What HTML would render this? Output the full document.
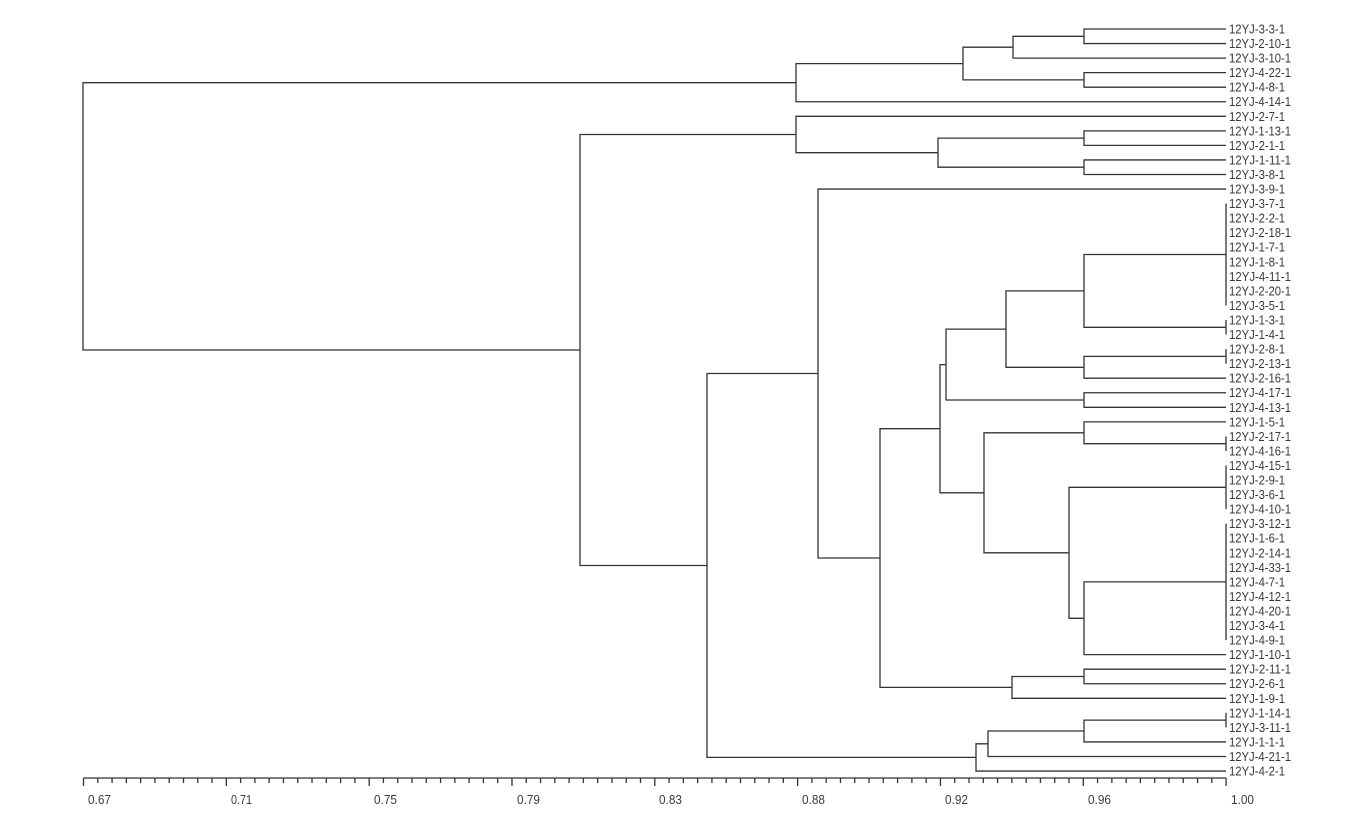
<!DOCTYPE html>
<html><head><meta charset="utf-8"><style>
html,body{margin:0;padding:0;background:#fff;}
svg{display:block;}
text{font-family:"Liberation Sans",sans-serif;fill:#3a3a3a;}
</style></head><body>
<svg width="1363" height="832" viewBox="0 0 1363 832" xmlns="http://www.w3.org/2000/svg">
<g fill="none" stroke="#333" stroke-width="1.3">
<path d="M1226 29H1084V43.55H1226"/>
<path d="M1084 36.3H1013V58.1H1226"/>
<path d="M1226 72.65H1084V87.2H1226"/>
<path d="M1013 47.2H963V79.9H1084"/>
<path d="M963 63.6H796V101.75H1226"/>
<path d="M1226 130.85H1084V145.4H1226"/>
<path d="M1226 159.95H1084V174.5H1226"/>
<path d="M1084 138.1H938V167.2H1084"/>
<path d="M1226 116.3H796V152.7H938"/>
<path d="M1226 203.6V305.45"/>
<path d="M1226 320V334.55"/>
<path d="M1226 254.5H1084V327.3H1226"/>
<path d="M1226 349.1V363.65"/>
<path d="M1226 356.4H1084V378.2H1226"/>
<path d="M1084 290.9H1006V367.3H1084"/>
<path d="M1226 392.75H1084V407.3H1226"/>
<path d="M1006 329.1H946V400H1084"/>
<path d="M1226 436.4V450.95"/>
<path d="M1226 421.85H1084V443.7H1226"/>
<path d="M1226 465.5V509.15"/>
<path d="M1226 523.7V640.1"/>
<path d="M1226 581.9H1084V654.65H1226"/>
<path d="M1226 487.3H1069V618.3H1084"/>
<path d="M1084 432.8H984V552.8H1069"/>
<path d="M946 364.6H940V492.8H984"/>
<path d="M1226 669.2H1084V683.75H1226"/>
<path d="M1084 676.5H1012V698.3H1226"/>
<path d="M940 428.7H880V687.4H1012"/>
<path d="M1226 189.05H818V558H880"/>
<path d="M1226 712.85V727.4"/>
<path d="M1226 720.1H1084V741.95H1226"/>
<path d="M1084 731H988V756.5H1226"/>
<path d="M988 743.8H976V771.05H1226"/>
<path d="M818 373.5H707V757.4H976"/>
<path d="M796 134.5H580V565.5H707"/>
<path d="M796 82.7H83V350H580"/>
<path d="M83.5 778H1226"/>
<path id="ticks" d=""/>
</g>
<g font-size="13">
<text x="1229" y="33.5" textLength="56" lengthAdjust="spacingAndGlyphs">12YJ-3-3-1</text>
<text x="1229" y="48" textLength="62" lengthAdjust="spacingAndGlyphs">12YJ-2-10-1</text>
<text x="1229" y="62.6" textLength="62" lengthAdjust="spacingAndGlyphs">12YJ-3-10-1</text>
<text x="1229" y="77.1" textLength="62" lengthAdjust="spacingAndGlyphs">12YJ-4-22-1</text>
<text x="1229" y="91.7" textLength="56" lengthAdjust="spacingAndGlyphs">12YJ-4-8-1</text>
<text x="1229" y="106.2" textLength="62" lengthAdjust="spacingAndGlyphs">12YJ-4-14-1</text>
<text x="1229" y="120.8" textLength="56" lengthAdjust="spacingAndGlyphs">12YJ-2-7-1</text>
<text x="1229" y="135.3" textLength="62" lengthAdjust="spacingAndGlyphs">12YJ-1-13-1</text>
<text x="1229" y="149.9" textLength="56" lengthAdjust="spacingAndGlyphs">12YJ-2-1-1</text>
<text x="1229" y="164.4" textLength="62" lengthAdjust="spacingAndGlyphs">12YJ-1-11-1</text>
<text x="1229" y="179" textLength="56" lengthAdjust="spacingAndGlyphs">12YJ-3-8-1</text>
<text x="1229" y="193.5" textLength="56" lengthAdjust="spacingAndGlyphs">12YJ-3-9-1</text>
<text x="1229" y="208.1" textLength="56" lengthAdjust="spacingAndGlyphs">12YJ-3-7-1</text>
<text x="1229" y="222.6" textLength="56" lengthAdjust="spacingAndGlyphs">12YJ-2-2-1</text>
<text x="1229" y="237.2" textLength="62" lengthAdjust="spacingAndGlyphs">12YJ-2-18-1</text>
<text x="1229" y="251.7" textLength="56" lengthAdjust="spacingAndGlyphs">12YJ-1-7-1</text>
<text x="1229" y="266.3" textLength="56" lengthAdjust="spacingAndGlyphs">12YJ-1-8-1</text>
<text x="1229" y="280.8" textLength="62" lengthAdjust="spacingAndGlyphs">12YJ-4-11-1</text>
<text x="1229" y="295.4" textLength="62" lengthAdjust="spacingAndGlyphs">12YJ-2-20-1</text>
<text x="1229" y="309.9" textLength="56" lengthAdjust="spacingAndGlyphs">12YJ-3-5-1</text>
<text x="1229" y="324.5" textLength="56" lengthAdjust="spacingAndGlyphs">12YJ-1-3-1</text>
<text x="1229" y="339" textLength="56" lengthAdjust="spacingAndGlyphs">12YJ-1-4-1</text>
<text x="1229" y="353.6" textLength="56" lengthAdjust="spacingAndGlyphs">12YJ-2-8-1</text>
<text x="1229" y="368.1" textLength="62" lengthAdjust="spacingAndGlyphs">12YJ-2-13-1</text>
<text x="1229" y="382.7" textLength="62" lengthAdjust="spacingAndGlyphs">12YJ-2-16-1</text>
<text x="1229" y="397.2" textLength="62" lengthAdjust="spacingAndGlyphs">12YJ-4-17-1</text>
<text x="1229" y="411.8" textLength="62" lengthAdjust="spacingAndGlyphs">12YJ-4-13-1</text>
<text x="1229" y="426.3" textLength="56" lengthAdjust="spacingAndGlyphs">12YJ-1-5-1</text>
<text x="1229" y="440.9" textLength="62" lengthAdjust="spacingAndGlyphs">12YJ-2-17-1</text>
<text x="1229" y="455.4" textLength="62" lengthAdjust="spacingAndGlyphs">12YJ-4-16-1</text>
<text x="1229" y="470" textLength="62" lengthAdjust="spacingAndGlyphs">12YJ-4-15-1</text>
<text x="1229" y="484.5" textLength="56" lengthAdjust="spacingAndGlyphs">12YJ-2-9-1</text>
<text x="1229" y="499.1" textLength="56" lengthAdjust="spacingAndGlyphs">12YJ-3-6-1</text>
<text x="1229" y="513.6" textLength="62" lengthAdjust="spacingAndGlyphs">12YJ-4-10-1</text>
<text x="1229" y="528.2" textLength="62" lengthAdjust="spacingAndGlyphs">12YJ-3-12-1</text>
<text x="1229" y="542.7" textLength="56" lengthAdjust="spacingAndGlyphs">12YJ-1-6-1</text>
<text x="1229" y="557.3" textLength="62" lengthAdjust="spacingAndGlyphs">12YJ-2-14-1</text>
<text x="1229" y="571.8" textLength="62" lengthAdjust="spacingAndGlyphs">12YJ-4-33-1</text>
<text x="1229" y="586.4" textLength="56" lengthAdjust="spacingAndGlyphs">12YJ-4-7-1</text>
<text x="1229" y="600.9" textLength="62" lengthAdjust="spacingAndGlyphs">12YJ-4-12-1</text>
<text x="1229" y="615.5" textLength="62" lengthAdjust="spacingAndGlyphs">12YJ-4-20-1</text>
<text x="1229" y="630" textLength="56" lengthAdjust="spacingAndGlyphs">12YJ-3-4-1</text>
<text x="1229" y="644.6" textLength="56" lengthAdjust="spacingAndGlyphs">12YJ-4-9-1</text>
<text x="1229" y="659.1" textLength="62" lengthAdjust="spacingAndGlyphs">12YJ-1-10-1</text>
<text x="1229" y="673.7" textLength="62" lengthAdjust="spacingAndGlyphs">12YJ-2-11-1</text>
<text x="1229" y="688.2" textLength="56" lengthAdjust="spacingAndGlyphs">12YJ-2-6-1</text>
<text x="1229" y="702.8" textLength="56" lengthAdjust="spacingAndGlyphs">12YJ-1-9-1</text>
<text x="1229" y="717.3" textLength="62" lengthAdjust="spacingAndGlyphs">12YJ-1-14-1</text>
<text x="1229" y="731.9" textLength="62" lengthAdjust="spacingAndGlyphs">12YJ-3-11-1</text>
<text x="1229" y="746.4" textLength="56" lengthAdjust="spacingAndGlyphs">12YJ-1-1-1</text>
<text x="1229" y="761" textLength="62" lengthAdjust="spacingAndGlyphs">12YJ-4-21-1</text>
<text x="1229" y="775.5" textLength="56" lengthAdjust="spacingAndGlyphs">12YJ-4-2-1</text>
</g>
<g font-size="13">
<text x="88" y="804" textLength="23" lengthAdjust="spacingAndGlyphs">0.67</text>
<text x="231" y="804" textLength="21" lengthAdjust="spacingAndGlyphs">0.71</text>
<text x="374" y="804" textLength="23" lengthAdjust="spacingAndGlyphs">0.75</text>
<text x="517" y="804" textLength="23" lengthAdjust="spacingAndGlyphs">0.79</text>
<text x="659" y="804" textLength="23" lengthAdjust="spacingAndGlyphs">0.83</text>
<text x="802" y="804" textLength="23" lengthAdjust="spacingAndGlyphs">0.88</text>
<text x="945" y="804" textLength="23" lengthAdjust="spacingAndGlyphs">0.92</text>
<text x="1088" y="804" textLength="23" lengthAdjust="spacingAndGlyphs">0.96</text>
<text x="1231" y="804" textLength="23" lengthAdjust="spacingAndGlyphs">1.00</text>
</g>
</svg>
<script>
var d="";for(var k=0;k<=80;k++){var x=83.5+k*14.2825;d+="M"+x.toFixed(2)+" 778V"+(k%10==0?786:783);}
document.getElementById("ticks").setAttribute("d",d);
</script>
</body></html>
